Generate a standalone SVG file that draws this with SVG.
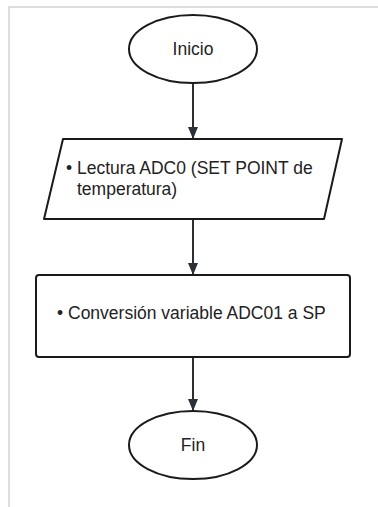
<svg xmlns="http://www.w3.org/2000/svg" width="378" height="507" viewBox="0 0 378 507">
  <style>
    .shape { fill: #ffffff; stroke: #1a1a1a; stroke-width: 2; }
    .label { font-family: "Liberation Sans", Arial, sans-serif; font-size: 17.5px; fill: #222222; }
    .conn { stroke: #2b2f36; stroke-width: 2; fill: none; }
    .frame { stroke: #d2d2d2; stroke-width: 1.5; fill: none; }
  </style>
  <defs>
    <marker id="arrow" viewBox="0 0 12 10" refX="12" refY="5" markerWidth="12" markerHeight="10" markerUnits="userSpaceOnUse" orient="auto">
      <path d="M0,0 L12,5 L0,10 Z" fill="#2b2f36"/>
    </marker>
  </defs>

  <rect width="378" height="507" fill="#ffffff"/>
  <!-- page frame -->
  <path class="frame" d="M9,507 L9,7 L378,7"/>

  <g id="connectors">
    <line class="conn" x1="193" y1="83" x2="193" y2="139" marker-end="url(#arrow)"/>
    <line class="conn" x1="193" y1="219" x2="193" y2="275" marker-end="url(#arrow)"/>
    <line class="conn" x1="193" y1="357" x2="193" y2="411" marker-end="url(#arrow)"/>
  </g>

  <g id="inicio">
    <ellipse class="shape" cx="193" cy="49" rx="64" ry="34"/>
    <text class="label" x="193" y="55" text-anchor="middle">Inicio</text>
  </g>

  <g id="lectura">
    <path class="shape" stroke-linejoin="round" d="M63,139 L342,139 L324,219 L44,219 Z"/>
    <text class="label" x="66" y="174">• Lectura ADC0 (SET POINT de</text>
    <text class="label" x="77" y="195">temperatura)</text>
  </g>

  <g id="conversion">
    <rect class="shape" x="36" y="275" width="314" height="82" rx="3"/>
    <text class="label" x="57" y="319">• Conversión variable ADC01 a SP</text>
  </g>

  <g id="fin">
    <ellipse class="shape" cx="193" cy="445" rx="64" ry="34"/>
    <text class="label" x="193" y="451" text-anchor="middle">Fin</text>
  </g>
</svg>
